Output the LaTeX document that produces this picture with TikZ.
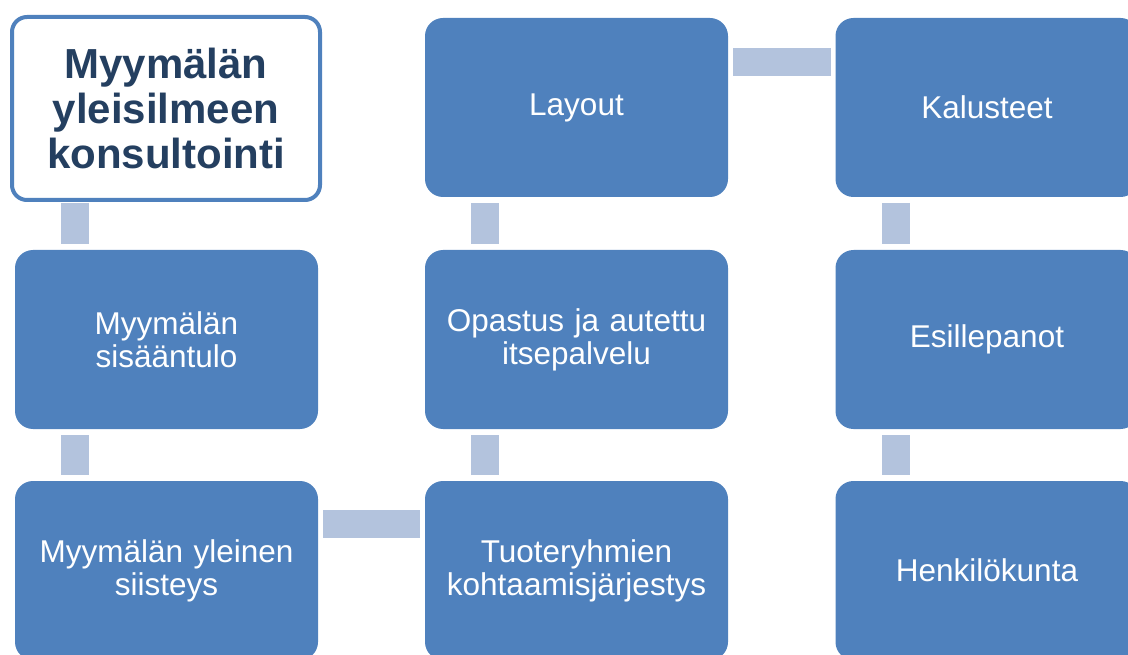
\documentclass[tikz,border=0pt]{standalone}
\usepackage{fontspec}
\setmainfont{Liberation Sans}
\definecolor{boxblue}{HTML}{4F81BD}
\definecolor{connblue}{HTML}{B3C3DD}
\definecolor{navy}{HTML}{243F60}
\begin{document}
\begin{tikzpicture}[x=1pt,y=-1pt,
  bx/.style={draw=none, fill=boxblue, rounded corners=18pt, minimum width=303pt, minimum height=179pt,
    inner sep=0pt, outer sep=0pt, text width=290pt, align=center, text=white,
    font=\fontsize{31.5}{33}\selectfont},
  titlebox/.style={draw=boxblue, line width=4pt, fill=white, rounded corners=15pt, minimum width=308pt, minimum height=183pt,
    inner sep=0pt, outer sep=0pt, text width=300pt, align=center, text=navy,
    font=\fontsize{42}{45}\selectfont\bfseries},
  conn/.style={draw=connblue, line width=28pt, line cap=butt}
]
\useasboundingbox (0,0) rectangle (1128,655);
\node[titlebox] (t) at (166,108.5) {Myymälän\\yleisilmeen\\konsultointi};
\node[bx] (a1) at (166.5,339.5) {Myymälän\\sisääntulo};
\node[bx] (a2) at (166.5,570.5) {Myymälän yleinen\\siisteys};
\node[bx] (b3) at (576.5,570.5) {Tuoteryhmien\\kohtaamisjärjestys};
\node[bx] (b2) at (576.5,339.5) {Opastus ja autettu\\itsepalvelu};
\node[bx] (b1) at (576.5,107.5) {Layout};
\node[bx] (c1) at (987,107.5) {Kalusteet};
\node[bx] (c2) at (987,339.5) {Esillepanot};
\node[bx] (c3) at (987,570.5) {Henkilökunta};
% connector x-positions
\coordinate (xa) at ([xshift=60pt]a1.north west);
\coordinate (xb) at ([xshift=60pt]b1.north west);
\coordinate (xc) at ([xshift=60pt]c1.north west);
\draw[conn, shorten <=3pt, shorten >=6pt] (t.south -| xa) -- (a1.north -| xa);
\draw[conn, shorten <=6pt, shorten >=6pt] (a1.south -| xa) -- (a2.north -| xa);
\coordinate (ya) at ([yshift=-43pt]a2.north east);
\draw[conn, shorten <=5pt, shorten >=5pt] (ya) -- (b3.west |- ya);
\draw[conn, shorten <=6pt, shorten >=6pt] (b3.north -| xb) -- (b2.south -| xb);
\draw[conn, shorten <=6pt, shorten >=6pt] (b2.north -| xb) -- (b1.south -| xb);
\coordinate (yb) at ([yshift=-44pt]b1.north east);
\draw[conn, shorten <=5pt, shorten >=5pt] (yb) -- (c1.west |- yb);
\draw[conn, shorten <=6pt, shorten >=6pt] (c1.south -| xc) -- (c2.north -| xc);
\draw[conn, shorten <=6pt, shorten >=6pt] (c2.south -| xc) -- (c3.north -| xc);
\end{tikzpicture}
\end{document}
